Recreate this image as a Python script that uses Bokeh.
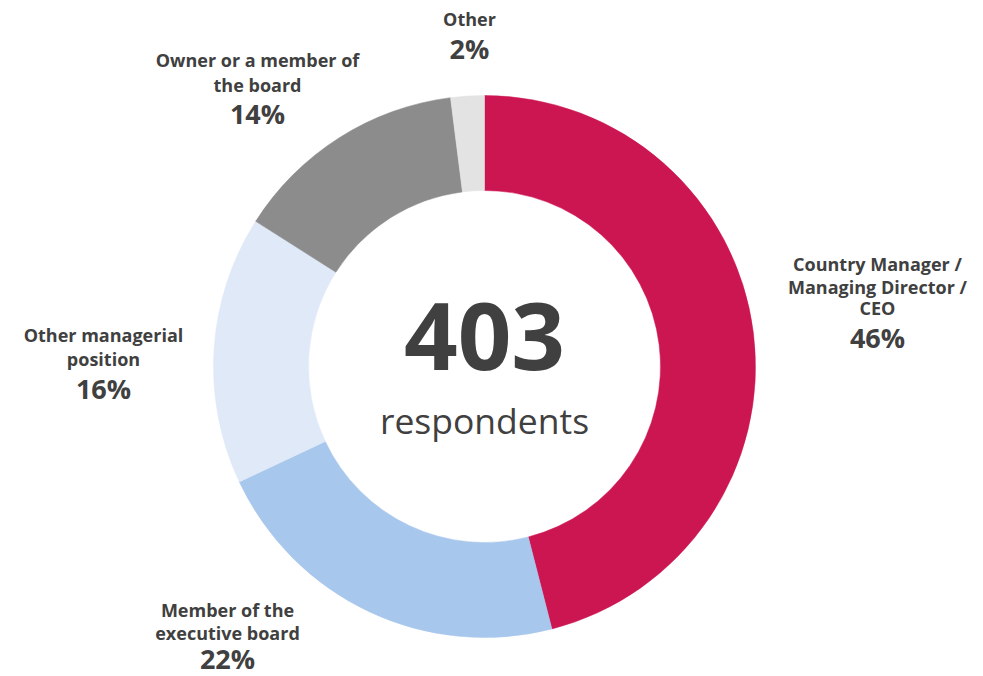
import numpy as np
from bokeh.plotting import figure
from bokeh.models import ColumnDataSource, Range1d
from bokeh.core.properties import value
from bokeh.embed import file_html
from bokeh.resources import INLINE

# ---- data ----
categories = ["Country Manager / Managing Director / CEO", "Member of the executive board",
              "Other managerial position", "Owner or a member of the board", "Other"]
shares = [46, 22, 16, 14, 2]
colors = ["#CC1652", "#A8C7EC", "#DFE9F7", "#8C8C8C", "#E3E3E3"]
label_lines = [["Country Manager /", "Managing Director /", "CEO"],
               ["Member of the", "executive board"],
               ["Other managerial", "position"],
               ["Owner or a member of", "the board"],
               ["Other"]]
total_respondents = 403
center_caption = "respondents"

# ---- layout ----
W, H = 983, 676
def sy(y):  # screen y -> data y
    return H - y

CX, CY = 484, sy(366)
R_OUT, R_IN = 271, 176

# label layout: (center x, baselines of name lines, baseline of percentage)
label_pos = [(877, [272, 295, 316], 349),
             (227, [618, 641], 670),
             (103, [343, 367], 400),
             (257, [68, 93], 125),
             (469, [27], 60)]

# empirical baseline corrections (px) for each font size
OFF_NAME, OFF_PCT, OFF_BIG, OFF_CAP = 9, 12, 37, 13

TEXT = "#404040"
FONT = "Open Sans"

p = figure(width=W, height=H, output_backend="svg", toolbar_location=None,
           x_range=Range1d(0, W), y_range=Range1d(0, H),
           min_border=0, outline_line_color=None)
p.axis.visible = False
p.grid.visible = False
p.background_fill_color = "white"
p.border_fill_color = "white"

frac = np.array(shares, dtype=float) / sum(shares)
cum = np.concatenate([[0], np.cumsum(frac)])
start = np.pi / 2 - cum[1:] * 2 * np.pi
end = np.pi / 2 - cum[:-1] * 2 * np.pi
src = ColumnDataSource(dict(start=start, end=end, color=colors, cat=categories))
p.annular_wedge(x=CX, y=CY, inner_radius=R_IN, outer_radius=R_OUT,
                start_angle="start", end_angle="end", direction="anticlock",
                fill_color="color", line_color="color", line_width=0.5, source=src)

# labels
nx, ny, nt = [], [], []
px, py, pt = [], [], []
for lines, s, (lx, bases, pb) in zip(label_lines, shares, label_pos):
    for ln, b in zip(lines, bases):
        nx.append(lx); ny.append(sy(b - OFF_NAME)); nt.append(ln)
    px.append(lx); py.append(sy(pb - OFF_PCT)); pt.append(f"{s}%")

p.text(x=nx, y=ny, text=nt, text_font=value(FONT), text_font_style="bold",
       text_font_size="18px", text_color=TEXT, text_align="center",
       text_baseline="alphabetic")
p.text(x=px, y=py, text=pt, text_font=value(FONT), text_font_style="bold",
       text_font_size="27px", text_color=TEXT, text_align="center",
       text_baseline="alphabetic")

# center
p.text(x=[CX], y=[sy(373 - OFF_BIG)], text=[str(total_respondents)], text_font=value(FONT),
       text_font_style="bold", text_font_size="94px", text_color=TEXT,
       text_align="center", text_baseline="alphabetic")
p.text(x=[CX], y=[sy(432 - OFF_CAP)], text=[center_caption], text_font=value(FONT),
       text_font_style="normal", text_font_size="35.5px", text_color=TEXT,
       text_align="center", text_baseline="alphabetic")

open("out.html", "w").write(file_html(p, INLINE))
